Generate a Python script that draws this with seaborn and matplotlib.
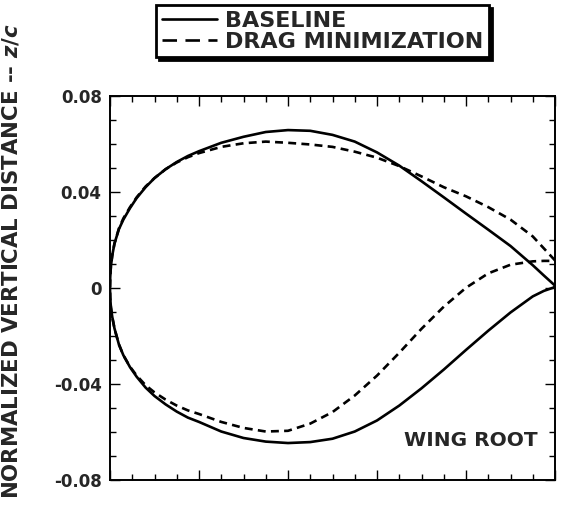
import matplotlib
matplotlib.use("Agg")
import matplotlib.pyplot as plt
from matplotlib.lines import Line2D
import numpy as np
import pandas as pd
import seaborn as sns

# Airfoil section coordinates at the wing root (x/c, z/c)
chord_x = [0.0, 0.0005, 0.002, 0.005, 0.01, 0.02, 0.03, 0.045, 0.06, 0.08, 0.10, 0.125,
           0.15, 0.175, 0.20, 0.25, 0.30, 0.35, 0.40, 0.45, 0.50, 0.55, 0.60, 0.65,
           0.70, 0.75, 0.80, 0.85, 0.90, 0.95, 0.975, 1.0]

baseline_upper_z = [0.0, 0.0045, 0.009, 0.0135, 0.0185, 0.0245, 0.0285, 0.0333, 0.0375, 0.042, 0.0458, 0.0495,
                    0.0525, 0.055, 0.057, 0.0605, 0.063, 0.065, 0.0658, 0.0655, 0.0638, 0.061, 0.0565, 0.051,
                    0.0445, 0.0378, 0.031, 0.0243, 0.0175, 0.0095, 0.0052, 0.001]
baseline_lower_z = [0.0, -0.004, -0.008, -0.012, -0.0168, -0.0235, -0.028, -0.033, -0.037, -0.0415, -0.045, -0.0485,
                    -0.0515, -0.054, -0.0558, -0.0598, -0.0625, -0.064, -0.0646, -0.0642, -0.0628, -0.0598, -0.0552, -0.049,
                    -0.0418, -0.034, -0.0258, -0.0178, -0.0102, -0.0035, -0.0012, 0.0004]

dragmin_upper_z = [0.0, 0.0045, 0.009, 0.0135, 0.0185, 0.0248, 0.029, 0.0337, 0.0378, 0.0423, 0.0458, 0.0495,
                   0.0523, 0.0545, 0.0562, 0.0588, 0.0603, 0.061, 0.0605, 0.0598, 0.0588, 0.0568, 0.0543, 0.0508,
                   0.0465, 0.042, 0.0382, 0.0337, 0.0285, 0.0215, 0.0165, 0.0115]
dragmin_lower_z = [0.0, -0.004, -0.008, -0.012, -0.0168, -0.0235, -0.028, -0.0328, -0.0365, -0.0405, -0.0435, -0.0465,
                   -0.049, -0.051, -0.0525, -0.0558, -0.0583, -0.0598, -0.0595, -0.0565, -0.0517, -0.0448, -0.0365, -0.027,
                   -0.017, -0.0078, 0.0001, 0.0061, 0.0097, 0.0111, 0.0113, 0.0113]

designs = ["BASELINE", "DRAG MINIMIZATION"]
y_ticks = [-0.08, -0.04, 0.0, 0.04, 0.08]
y_tick_labels = ["-0.08", "-0.04", "0", "0.04", "0.08"]


def contour(x, uz, lz, name):
    # trailing edge -> upper surface -> leading edge -> lower surface -> trailing edge
    xs = list(reversed(x)) + list(x[1:])
    zs = list(reversed(uz)) + list(lz[1:])
    return pd.DataFrame({"x": xs, "z": zs, "design": name})


df = pd.concat([
    contour(chord_x, baseline_upper_z, baseline_lower_z, designs[0]),
    contour(chord_x, dragmin_upper_z, dragmin_lower_z, designs[1]),
], ignore_index=True)

sns.set_style("ticks")
plt.rcParams["font.family"] = ["DejaVu Sans"]
plt.rcParams["mathtext.fontset"] = "custom"
plt.rcParams["mathtext.it"] = "DejaVu Sans:italic:bold"
plt.rcParams["mathtext.rm"] = "DejaVu Sans:bold"

fig = plt.figure(figsize=(5.61, 5.05), dpi=100)
ax = fig.add_axes([110 / 561, 25 / 505, 445 / 561, 384 / 505])

sns.lineplot(data=df, x="x", y="z", style="design", sort=False, estimator=None,
             dashes={designs[0]: "", designs[1]: (3.0, 2.0)},
             color="black", linewidth=1.9, legend=False, ax=ax)

ax.set_xlim(0, 1)
ax.set_ylim(-0.08, 0.08)
ax.set_xticks(np.arange(0, 1.01, 0.2))
ax.set_xticks(np.arange(0, 1.01, 0.05), minor=True)
ax.set_yticks(y_ticks)
ax.set_yticklabels(y_tick_labels, fontsize=12, fontweight="bold")
ax.set_yticks(np.arange(-0.08, 0.081, 0.01), minor=True)
ax.tick_params(which="both", direction="in", top=True, right=True, labelbottom=False,
               width=1.0, color="black")
ax.tick_params(which="major", length=7, pad=6)
ax.tick_params(which="minor", length=4)
ax.set_xlabel("")
ax.set_ylabel("")
for s in ax.spines.values():
    s.set_linewidth(1.4)
    s.set_color("black")

ax.text(0.96, -0.0637, "WING ROOT", ha="right", va="center", fontsize=14.5, fontweight="bold")

fig.text(0.019, 0.482, r"NORMALIZED VERTICAL DISTANCE -- $\mathit{z/c}$",
         rotation=90, ha="center", va="center", fontsize=15.3, fontweight="bold")

handles = [Line2D([], [], color="black", linewidth=1.9),
           Line2D([], [], color="black", linewidth=1.9, dashes=(5.5, 3.2))]
leg = fig.legend(handles, designs, loc="upper center", bbox_to_anchor=(0.575, 0.99),
                 frameon=True, fancybox=False, edgecolor="black", framealpha=1,
                 shadow={"color": "black", "alpha": 1},
                 prop={"weight": "bold", "size": 16}, handlelength=2.5, handletextpad=0.35,
                 labelspacing=0.05, borderpad=0.25, borderaxespad=0)
leg.get_frame().set_linewidth(2)

fig.savefig("out.png", dpi=100)
